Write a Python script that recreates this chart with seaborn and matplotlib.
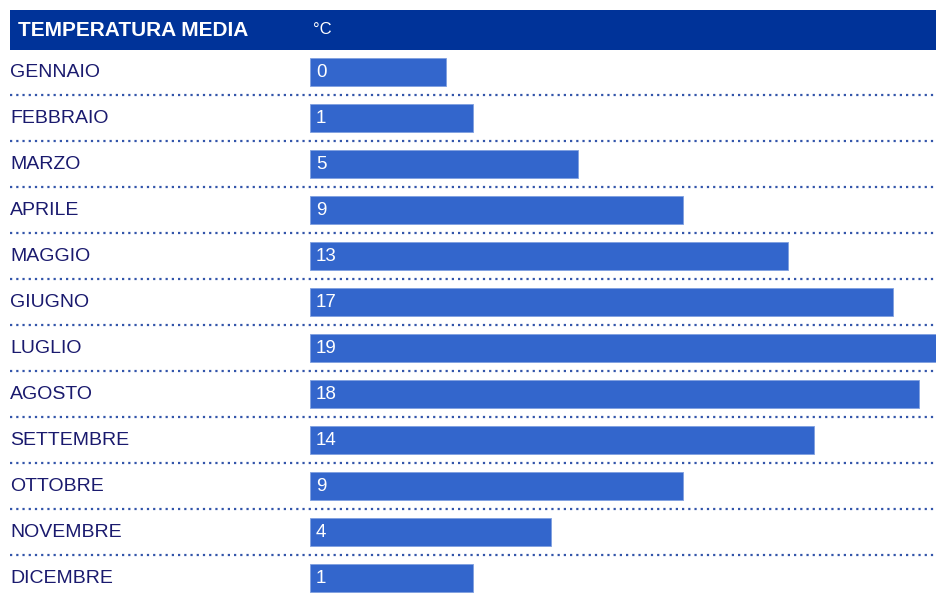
import matplotlib
matplotlib.use('Agg')
import matplotlib.pyplot as plt
import matplotlib.transforms as mtransforms
from matplotlib.patches import Rectangle
import seaborn as sns
import pandas as pd
import numpy as np

# Data
months = ['GENNAIO', 'FEBBRAIO', 'MARZO', 'APRILE', 'MAGGIO', 'GIUGNO',
          'LUGLIO', 'AGOSTO', 'SETTEMBRE', 'OTTOBRE', 'NOVEMBRE', 'DICEMBRE']
temps = [0, 1, 5, 9, 13, 17, 19, 18, 14, 9, 4, 1]
header_title = 'TEMPERATURA MEDIA'
header_unit = '°C'

# bars start from a baseline below zero
BASE = -5.2

df = pd.DataFrame({'month': months, 'temp': temps})
df['length'] = df['temp'] - BASE

sns.set_style("white")
plt.rcParams['font.family'] = ['Liberation Sans', 'DejaVu Sans']

W, H = 937, 598
fig = plt.figure(figsize=(W / 100, H / 100), dpi=100)
fig.patch.set_facecolor('white')

# axes area in pixels: x 10..937, y 49..598
left_px, top_px = 10, 49
ax = fig.add_axes([left_px / W, 0, 1 - left_px / W, 1 - top_px / H])

px_per_unit = 26.25
bar_start_px = 310
sns.barplot(data=df, x='length', y='month', orient='h', color='#3366CC',
            saturation=1, width=0.6, edgecolor='#7f9fe0', linewidth=0.6, ax=ax)

ax.set_xlim(-(bar_start_px - left_px) / px_per_unit, (W - bar_start_px) / px_per_unit)
pitch = 46
ax.set_ylim(-0.5 + (H - top_px) / pitch, -0.5)
ax.axis('off')

trans = mtransforms.blended_transform_factory(ax.transAxes, ax.transData)
for i, (m, t) in enumerate(zip(months, temps)):
    ax.text(0.0, i + 0.02, m, transform=trans, ha='left', va='center',
            fontsize=14, color='#1a1a6e')
    ax.text(6 / px_per_unit, i + 0.02, str(t), ha='left', va='center',
            fontsize=13.5, color='white')
    # dotted separator
    ax.axhline(i + 0.5, color='#3355aa', linestyle=(0, (1, 1.8)), linewidth=1.6, xmin=0, xmax=1)

# header band
fig.patches.append(Rectangle((10 / W, 1 - 50 / H), 1 - 10 / W, 40 / H,
                             transform=fig.transFigure, facecolor='#003399',
                             edgecolor='none'))
fig.text(18 / W, 1 - 30 / H, header_title, ha='left', va='center',
         fontsize=15, fontweight='bold', color='white')
fig.text(313 / W, 1 - 30 / H, header_unit, ha='left', va='center',
         fontsize=12, color='white')

fig.savefig('out.png', dpi=100)
